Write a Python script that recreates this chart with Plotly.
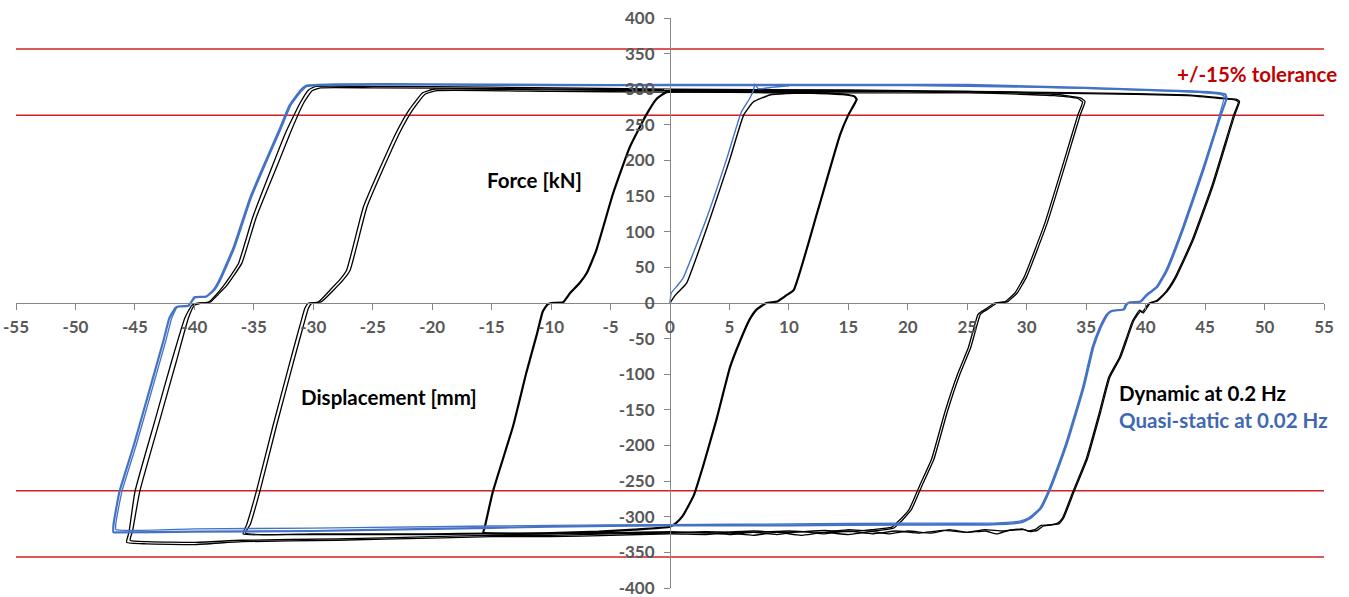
import plotly.graph_objects as go

# ---------------- data (displacement [mm], force [kN]) ----------------
x_ticks = list(range(-55, 56, 5))
y_ticks = list(range(-400, 401, 50))
tolerance_levels = [356.5, 263.5, -263.5, -356.5]

# Dynamic at 0.2 Hz - initial loading
dyn_initial = [(0, 0), (0.4, 10), (0.85, 18), (1.4, 28), (3.4, 120), (5.0, 200), (6.2, 264),
               (7.0, 282), (8.4, 292), (9.8, 294), (12, 295)]

# Dynamic - loop +/-15 mm
dyn_loop15 = [(-15.7, -322), (-15.6, -316), (-14.9, -265), (-13.2, -173), (-12.1, -99), (-11.2, -44),
              (-10.7, -12), (-10.3, -2), (-10.0, 0), (-9.0, 1), (-8.4, 14), (-7.6, 28), (-7.0, 42),
              (-6.2, 74), (-4.8, 153), (-3.4, 218), (-2.0, 264), (-1.1, 287), (-0.3, 296),
              (3, 297), (8, 296), (12, 295), (14.5, 293), (15.5, 290), (15.7, 286),
              (15.0, 264), (14.3, 236), (12.4, 128), (10.4, 18), (9.8, 11), (9.0, 2), (8.1, 0),
              (7.3, -9), (6.7, -23), (5.9, -53), (5.05, -90), (3.9, -164), (2.8, -228), (2.0, -270),
              (1.1, -298), (0.5, -309), (0, -314), (-3, -318), (-6, -321), (-10, -323), (-13, -324),
              (-15.7, -322)]

# Dynamic - loop +/-35 mm, cycle a and b
dyn_loop35a = [(-35.9, -324), (-35.6, -311), (-34.8, -265), (-33.4, -173), (-32.0, -85), (-31.1, -30),
               (-30.7, -7), (-30.4, 0), (-29.6, 1), (-28.6, 18), (-27.8, 32), (-27.2, 46), (-25.8, 134),
               (-24.4, 189), (-23.0, 240), (-21.9, 272), (-20.8, 295), (-19.9, 300),
               (-10, 299), (0, 298), (10, 297), (20, 297), (25, 297), (29.5, 295), (32.3, 293),
               (34.5, 288), (34.9, 283),
               (34.5, 264), (33.4, 203), (31.7, 111), (30.0, 37), (29.2, 14), (28.4, 2), (27.5, 0),
               (26.7, -9), (26.4, -12), (26.1, -16), (25.3, -62), (24.4, -99), (23.3, -154), (22.2, -219),
               (21.2, -256), (20.3, -290), (19.3, -309), (18.8, -316),
               (17, -320), (15, -318), (13, -322), (10, -320), (7, -322), (3, -321), (0, -322),
               (-5, -322), (-10, -323), (-15, -323), (-20, -324), (-25, -324), (-30, -324), (-35.9, -324)]
dyn_loop35b = [(-35.7, -323), (-35.3, -311), (-34.5, -265), (-33.1, -173), (-31.7, -85), (-30.8, -30),
               (-30.4, -7), (-30.1, 0), (-29.3, 2), (-28.3, 18), (-27.5, 32), (-26.9, 46), (-25.5, 134),
               (-24.1, 189), (-22.7, 240), (-21.6, 272), (-20.6, 293), (-19.6, 298),
               (-10, 297), (0, 296), (10, 295), (20, 295), (25, 295), (29.5, 293), (32.3, 291),
               (34.3, 287), (34.7, 282),
               (34.3, 264), (33.2, 203), (31.5, 111), (29.8, 37), (29.0, 14), (28.2, 2), (27.3, 0),
               (26.5, -9), (26.2, -12), (25.9, -16), (25.1, -62), (24.2, -99), (23.1, -154), (22.0, -219),
               (21.0, -256), (20.1, -290), (19.1, -308), (18.6, -315),
               (17, -318), (15, -321), (13, -319), (10, -322), (7, -320), (3, -323), (0, -321),
               (-5, -323), (-10, -324), (-15, -324), (-20, -325), (-25, -325), (-30, -325), (-35.7, -323)]

# Dynamic - loop +/-48 mm, cycle a and b
dyn_loop48a = [(-45.7, -336), (-45.5, -322), (-45.0, -265), (-43.3, -164), (-41.9, -81), (-40.8, -21),
               (-40.2, -3), (-39.6, 0), (-38.8, 1), (-38.2, 11), (-37.6, 23), (-37.0, 37), (-36.3, 55),
               (-35.1, 120), (-33.4, 194), (-32.3, 240), (-31.1, 281), (-30.4, 299), (-29.8, 304),
               (-25, 304), (-15, 303), (0, 300), (15, 299), (25, 297), (35, 295), (43.5, 292),
               (46.3, 288), (47.6, 286), (47.9, 283),
               (47.5, 264), (45.7, 166), (44.0, 88), (42.6, 37), (41.8, 16), (41.0, 3), (40.4, 0),
               (39.8, -14), (39.6, -11), (39.0, -25), (38.4, -53), (37.9, -76), (37.0, -104), (36.2, -154),
               (35.1, -219), (34.0, -264), (33.1, -302), (32.7, -310), (32.3, -311), (31.4, -313),
               (30.9, -319), (30.3, -321), (29.8, -318),
               (28.5, -319), (27.5, -324), (26.5, -320), (25, -322), (23.5, -318), (22, -323), (20, -320),
               (18.5, -324), (17, -321), (15, -325), (13, -322), (11, -326), (9, -322), (7, -326),
               (5, -323), (3, -325), (0, -324), (-5, -326), (-10, -328), (-15, -328), (-20, -330),
               (-28, -333), (-36, -335), (-40, -339), (-44, -338), (-45.7, -336)]
dyn_loop48b = [(-45.4, -333), (-45.2, -320), (-44.6, -265), (-42.9, -164), (-41.5, -81), (-40.5, -21),
               (-40.0, -3), (-39.4, 0), (-38.6, 2), (-38.0, 12), (-37.3, 24), (-36.7, 38), (-36.0, 56),
               (-34.8, 120), (-33.0, 194), (-31.9, 240), (-30.8, 281), (-30.1, 298), (-29.4, 302),
               (-25, 302), (-15, 301), (0, 299), (15, 298), (25, 296), (35, 294), (43.5, 291),
               (46.3, 287), (47.5, 285), (47.8, 282),
               (47.4, 264), (45.6, 166), (43.9, 88), (42.5, 37), (41.7, 16), (40.9, 3), (40.3, 0),
               (39.7, -13), (39.5, -10), (38.9, -25), (38.3, -53), (37.8, -76), (36.9, -104), (36.1, -154),
               (35.0, -219), (33.9, -264), (33.0, -302), (32.6, -309), (32.1, -311), (31.2, -312),
               (30.7, -318), (30.1, -320), (29.6, -317),
               (28, -320), (26.5, -318), (25, -322), (23, -319), (21, -323), (19, -320), (17, -324),
               (15, -320), (13, -324), (11, -321), (9, -325), (7, -322), (5, -325), (3, -322), (0, -323),
               (-5, -324), (-10, -326), (-15, -326), (-20, -328), (-28, -331), (-36, -333), (-40, -336),
               (-44, -335), (-45.4, -333)]

# Quasi-static at 0.02 Hz - initial loading
qs_initial = [(0, 0), (0.1, 14), (0.55, 23), (1.1, 35), (3.1, 120), (4.8, 204), (6.0, 268),
              (6.7, 287), (7.0, 298), (7.15, 307), (7.4, 301), (7.85, 301), (8.7, 303), (10, 305)]

# Quasi-static - loop +/-47 mm, cycle a and b
qs_loop47a = [(-46.8, -322), (-46.8, -311), (-46.3, -265), (-45.1, -200), (-43.7, -118), (-42.6, -53),
              (-42.1, -21), (-41.6, -7), (-41.4, -5), (-40.5, -4), (-40.2, 3), (-40.0, 8), (-39.0, 9),
              (-38.4, 18), (-37.9, 32), (-36.7, 78), (-35.3, 148), (-33.9, 203), (-32.8, 245),
              (-32.0, 277), (-31.1, 298), (-30.6, 305),
              (-28, 307), (-20, 307), (-10, 306), (0, 306), (15, 306), (25, 306), (35, 302),
              (40, 299), (44, 297), (46.0, 295), (46.7, 293), (46.8, 287),
              (46.3, 263), (44.9, 189), (43.2, 106), (41.8, 46), (41.0, 23), (40.1, 11), (39.6, 2),
              (38.7, 1), (38.4, -2), (38.2, -9), (37.2, -11), (36.8, -16), (36.2, -35), (35.6, -62),
              (34.8, -118), (33.4, -196), (32.3, -247), (31.9, -264), (31.2, -288), (30.3, -302),
              (29.5, -308), (26.7, -311),
              (20, -311), (10, -312), (0, -312), (-10, -314), (-20, -317), (-30, -320), (-40, -321),
              (-46.5, -322), (-46.8, -322)]
qs_loop47b = [(-46.6, -318), (-46.6, -309), (-46.1, -265), (-44.9, -200), (-43.5, -118), (-42.4, -53),
              (-41.9, -21), (-41.5, -7), (-41.3, -5), (-40.5, -3), (-40.1, 4), (-39.9, 8), (-39.0, 9),
              (-38.3, 18), (-37.8, 32), (-36.6, 78), (-35.2, 148), (-33.8, 203), (-32.7, 245),
              (-31.9, 277), (-31.0, 297), (-30.5, 304),
              (-28, 306), (-20, 306), (-10, 305), (0, 305), (10, 305), (20, 305), (30, 303),
              (38, 300), (44, 296), (46.2, 293), (46.6, 290),
              (46.2, 263), (44.8, 189), (43.1, 106), (41.7, 46), (40.9, 23), (40.0, 11), (39.5, 2),
              (38.6, 1), (38.3, -2), (38.1, -9), (37.1, -11), (36.7, -16), (36.1, -35), (35.5, -62),
              (34.7, -118), (33.3, -196), (32.2, -247), (31.8, -264), (31.1, -288), (30.2, -301),
              (29.4, -306), (26.7, -309),
              (20, -309), (10, -310), (0, -311), (-10, -312), (-20, -314), (-30, -316), (-40, -317),
              (-46.6, -318)]

# ---------------- figure ----------------
BLACK = "#000000"
BLUE = "#4472C4"
RED = "#D42020"
AXIS = "#868686"
TICKTXT = "#595959"
FONT = "Lato"

fig = go.Figure()

for lvl in tolerance_levels:
    fig.add_trace(go.Scatter(x=[x_ticks[0], x_ticks[-1]], y=[lvl, lvl], mode="lines",
                             line=dict(color=RED, width=1.5), showlegend=False, hoverinfo="skip"))


def add_curve(pts, color, width):
    xs = [p[0] for p in pts]
    ys = [p[1] for p in pts]
    fig.add_trace(go.Scatter(x=xs, y=ys, mode="lines", line=dict(color=color, width=width,
                             shape="spline", smoothing=0.4), showlegend=False, hoverinfo="skip"))


add_curve(dyn_initial, BLACK, 1.4)
add_curve(dyn_loop15, BLACK, 2.2)
add_curve(dyn_loop35a, BLACK, 1.3)
add_curve(dyn_loop35b, BLACK, 1.3)
add_curve(dyn_loop48a, BLACK, 1.3)
add_curve(dyn_loop48b, BLACK, 1.3)
add_curve(qs_initial, BLUE, 1.4)
add_curve(qs_loop47b, BLUE, 1.3)
add_curve(qs_loop47a, BLUE, 2.2)

tickfont = dict(family=FONT, size=17, color=TICKTXT, weight="bold")

common_x = dict(range=[x_ticks[0], x_ticks[-1]], anchor="free", position=0.5, showgrid=False,
                zeroline=False, tickmode="array", tickvals=x_ticks, ticklen=6, tickwidth=1,
                tickcolor=AXIS, automargin=False, fixedrange=True)
common_y = dict(range=[y_ticks[0], y_ticks[-1]], anchor="free", position=0.5, showgrid=False,
                zeroline=False, tickmode="array", tickvals=y_ticks, ticklen=6, tickwidth=1,
                tickcolor=AXIS, automargin=False, fixedrange=True)

fig.update_layout(
    width=1349, height=597,
    margin=dict(l=16, r=25, t=18, b=9),
    paper_bgcolor="white", plot_bgcolor="white",
    xaxis=dict(**common_x, showline=True, linecolor=AXIS, linewidth=1, ticks="outside",
               ticktext=[str(v) for v in x_ticks], tickfont=tickfont, ticklabelstandoff=3,
               ticklabeloverflow="allow"),
    yaxis=dict(**common_y, showline=True, linecolor=AXIS, linewidth=1, ticks="outside",
               ticktext=[str(v) for v in y_ticks], tickfont=tickfont, ticklabelstandoff=6,
               ticklabeloverflow="allow"),
    xaxis2=dict(**common_x, overlaying="x", ticks="inside", showticklabels=False, showline=False),
    yaxis2=dict(**common_y, overlaying="y", ticks="inside", showticklabels=False, showline=False),
    showlegend=False,
)

annots = [
    dict(x=-11.4, y=172, text="Force [kN]", color=BLACK, xanchor="center"),
    dict(x=-23.6, y=-132, text="Displacement [mm]", color=BLACK, xanchor="center"),
    dict(x=37.6, y=-126, text="Dynamic at 0.2 Hz", color=BLACK, xanchor="left"),
    dict(x=37.6, y=-164, text="Quasi-static at 0.02 Hz", color="#4068B2", xanchor="left"),
    dict(x=42.5, y=321.5, text="+/-15% tolerance", color="#C00000", xanchor="left"),
]
for a in annots:
    fig.add_annotation(x=a["x"], y=a["y"], xref="x", yref="y", text=a["text"], showarrow=False,
                       xanchor=a["xanchor"], yanchor="middle",
                       font=dict(family=FONT, size=20.5, color=a["color"], weight="bold"))

# remove the default page margin so the figure fills the browser window exactly
fig.write_html("out.html", config={"displayModeBar": False},
               post_script="document.body.style.margin='0px';document.body.style.overflow='hidden';")
